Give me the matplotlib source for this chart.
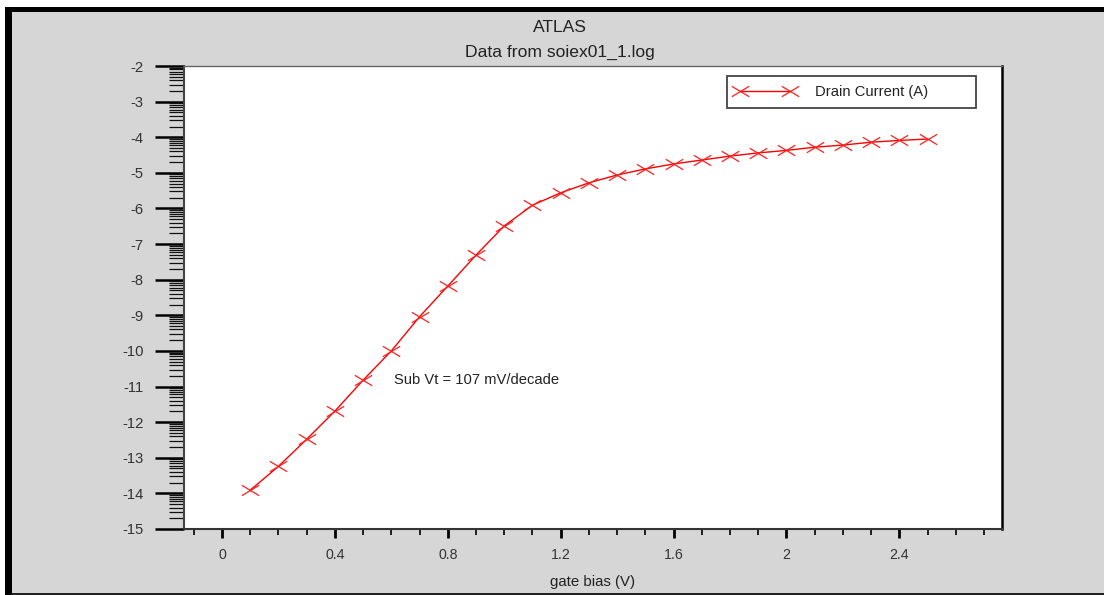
import numpy as np
import matplotlib
matplotlib.use("Agg")
import matplotlib.pyplot as plt
from matplotlib.path import Path
from matplotlib.patches import Rectangle

plt.rcParams['font.family'] = ['Liberation Sans', 'DejaVu Sans']
plt.rcParams['axes.unicode_minus'] = False

# Gate sweep and log10 of drain current
gate_bias = [0.1, 0.2, 0.3, 0.4, 0.5, 0.6, 0.7, 0.8, 0.9, 1.0,
             1.1, 1.2, 1.3, 1.4, 1.5, 1.6, 1.7, 1.8, 1.9, 2.0,
             2.1, 2.2, 2.3, 2.4, 2.5]
log_drain_current = [-13.91, -13.24, -12.48, -11.69, -10.82, -10.00, -9.04, -8.18,
                     -7.31, -6.49, -5.91, -5.56, -5.28, -5.06, -4.89, -4.75,
                     -4.64, -4.53, -4.44, -4.37, -4.28, -4.22, -4.14, -4.09, -4.05]
x_major_ticks = [0, 0.4, 0.8, 1.2, 1.6, 2.0, 2.4]
x_tick_labels = ['0', '0.4', '0.8', '1.2', '1.6', '2', '2.4']
y_major_ticks = list(range(-15, -1))
series_label = 'Drain Current (A)'
note_text = 'Sub Vt = 107 mV/decade'

W, H = 1104, 595
fig = plt.figure(figsize=(W / 100, H / 100), dpi=100, facecolor='white')

def px_rect(x0, y0, x1, y1, color):
    # rectangle given in pixel coordinates measured from the top-left corner
    fig.patches.append(Rectangle((x0 / W, 1 - y1 / H), (x1 - x0) / W, (y1 - y0) / H,
                                 transform=fig.transFigure, facecolor=color,
                                 edgecolor='none', zorder=-10))

# window frame
px_rect(12, 12, W, 593, '#d6d6d6')
px_rect(5, 7, W, 12, 'black')
px_rect(5, 7, 12, H, 'black')
px_rect(12, 593, W, 595, '#222222')

ax = fig.add_axes([184 / W, 1 - 529 / H, (1002 - 184) / W, (529 - 66) / H])
ax.set_facecolor('white')

# flattened cross marker
cross = Path([(-1, -0.6), (1, 0.6), (-1, 0.6), (1, -0.6)],
             [Path.MOVETO, Path.LINETO, Path.MOVETO, Path.LINETO])

ax.plot(gate_bias, log_drain_current, color='#ff0000', lw=1.0,
        marker=cross, markersize=12.5, markeredgewidth=0.9,
        markeredgecolor='#ff2020', label=series_label)

ax.set_xlim(-0.1347, 2.764)
ax.set_ylim(-15, -2)

ax.set_xticks(x_major_ticks)
ax.set_xticklabels(x_tick_labels)
ax.set_xticks(np.round(np.arange(-0.1, 2.75, 0.1), 2), minor=True)
ax.set_yticks(y_major_ticks)
ax.set_yticklabels([str(v) for v in y_major_ticks])
minor_y = [d + np.log10(k) for d in range(-15, -2) for k in range(2, 10)]
ax.set_yticks(minor_y, minor=True)

ax.tick_params(axis='x', which='major', direction='out', length=6.5, width=2,
               pad=7, labelsize=10.2, colors='black', labelcolor='#333333')
ax.tick_params(axis='x', which='minor', direction='out', length=4.3, width=1.2,
               colors='black')
ax.tick_params(axis='y', which='major', direction='out', length=21, width=1.8,
               pad=8, labelsize=10.6, colors='black', labelcolor='#333333')
ax.tick_params(axis='y', which='minor', direction='out', length=11, width=0.9,
               colors='#111111')

for side, (c, lw) in {'left': ('#444444', 1.5), 'bottom': ('#333333', 1.5),
                      'right': ('black', 1.8), 'top': ('#666666', 1.0)}.items():
    ax.spines[side].set_color(c)
    ax.spines[side].set_linewidth(lw)

leg = ax.legend(loc='upper left', bbox_to_anchor=(0.6638, 0.968, 0.3044, 0.01),
                mode='expand', numpoints=2, handlelength=4.0, handletextpad=1.4,
                fontsize=10.6, borderpad=0.6, borderaxespad=0, fancybox=False,
                frameon=True, labelcolor='#222222')
leg.get_frame().set_edgecolor('#444444')
leg.get_frame().set_linewidth(1.3)
leg.get_frame().set_facecolor('white')
leg.get_frame().set_alpha(1)

ax.text(0.608, -10.83, note_text, fontsize=10.6, color='#222222',
        ha='left', va='center')

fig.text(560 / W, 1 - 27 / H, 'ATLAS', ha='center', va='center', fontsize=12.6,
         color='#222222')
fig.text(560 / W, 1 - 52 / H, 'Data from soiex01_1.log', ha='center', va='center',
         fontsize=12.6, color='#222222')
fig.text(593 / W, 1 - 582 / H, 'gate bias (V)', ha='center', va='center',
         fontsize=10.8, color='#222222')

fig.savefig('out.png', dpi=100, facecolor=fig.get_facecolor())
